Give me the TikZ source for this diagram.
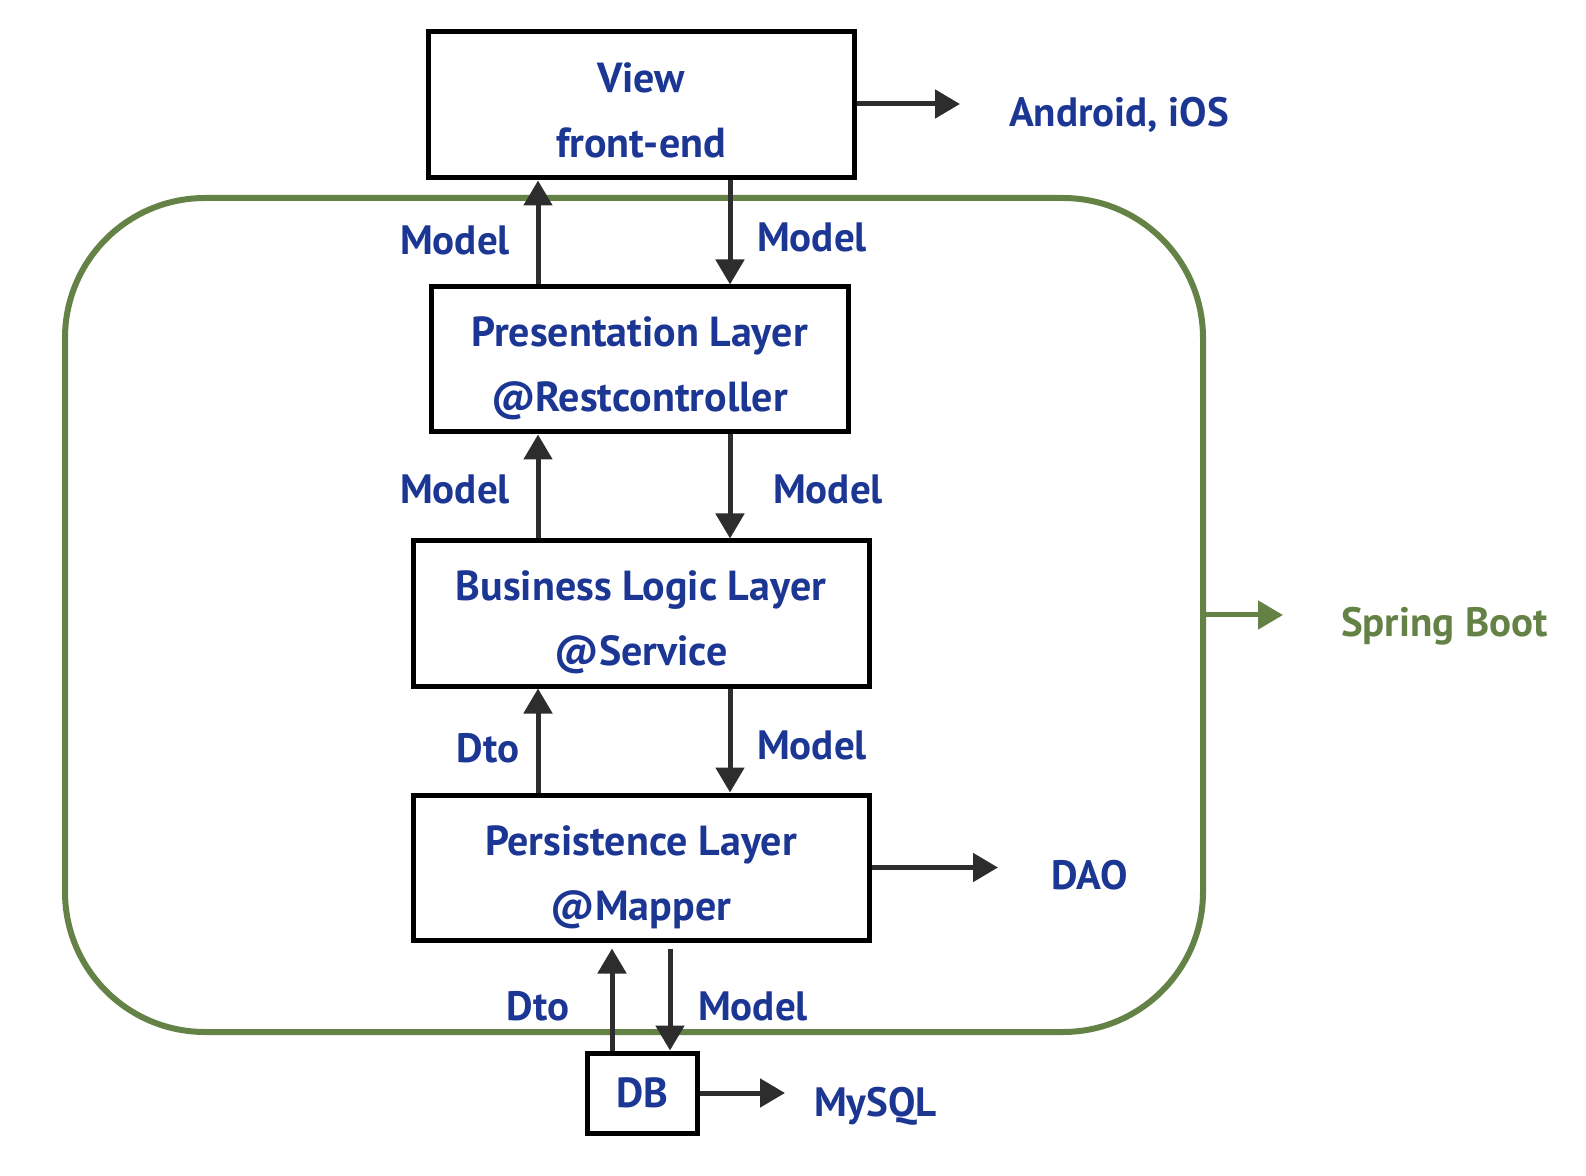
\documentclass[tikz,border=0pt]{standalone}
\usepackage{fontspec}
\setmainfont{PT Sans}
\usetikzlibrary{arrows.meta}
\definecolor{txtblue}{RGB}{28,54,148}
\definecolor{bootgreen}{RGB}{100,130,70}
\definecolor{arrgray}{RGB}{45,45,45}
\tikzset{
  layer/.style={draw=black, line width=2.5pt, fill=white},
  linea/.style={anchor=base, yshift=6.25pt, text=txtblue, font=\fontsize{21}{25}\selectfont\bfseries},
  lineb/.style={anchor=base, yshift=-26.25pt, text=txtblue, font=\fontsize{21}{25}\selectfont\bfseries},
  lbl/.style={text=txtblue, font=\fontsize{20.5}{24}\selectfont\bfseries},
  flow/.style={draw=arrgray, line width=2.5pt, -{Triangle[length=12.5pt,width=14pt]}},
}
\begin{document}
\begin{tikzpicture}[x=0.5pt,y=-0.5pt]
\useasboundingbox (0,0) rectangle (1586,1176);

%Shape: Rounded Rectangle (Spring Boot)
\node[draw=bootgreen, line width=3pt, rounded corners=70pt, minimum width=569pt, minimum height=417pt] (spring) at (634,615) {};

%Layers
\node[layer, minimum width=213pt, minimum height=73pt] (view) at (641,105) {};
\node[layer, minimum width=208.5pt, minimum height=72.5pt] (pres) at (639.5,359.5) {};
\node[layer, minimum width=228pt, minimum height=72.5pt] (bus) at (641,613.5) {};
\node[layer, minimum width=228pt, minimum height=72.5pt] (pers) at (641,867.5) {};
\node[layer, minimum width=55pt, minimum height=40pt] (db) at (642,1093) {};

%Layer texts
\node[linea] (viewa) at (view.center) {View};
\node[lineb] (viewb) at (view.center) {front-end};
\node[linea] (presa) at (pres.center) {Presentation Layer};
\node[lineb] (presb) at (pres.center) {@Restcontroller};
\node[linea] (busa) at (bus.center) {Business Logic Layer};
\node[lineb] (busb) at (bus.center) {@Service};
\node[linea] (persa) at (pers.center) {Persistence Layer};
\node[lineb] (persb) at (pers.center) {@Mapper};
\node[lbl, font=\fontsize{21}{25}\selectfont\bfseries] (dbtxt) at (db.center) {DB};

%Columns of the vertical arrows
\coordinate (upx) at (538,0);
\coordinate (downx) at (730,0);
\coordinate (dbup) at (612,0);
\coordinate (dbdown) at (670,0);

%Vertical arrows
\draw[flow] (pres.north -| upx) -- (view.south -| upx);
\draw[flow] (view.south -| downx) -- (pres.north -| downx);
\draw[flow] (bus.north -| upx) -- (pres.south -| upx);
\draw[flow] (pres.south -| downx) -- (bus.north -| downx);
\draw[flow] (pers.north -| upx) -- (bus.south -| upx);
\draw[flow] (bus.south -| downx) -- (pers.north -| downx);
\draw[flow, shorten >=3pt] (db.north -| dbup) -- (pers.south -| dbup);
\draw[flow, shorten <=3pt] (pers.south -| dbdown) -- (db.north -| dbdown);

%Arrow labels
\node[lbl] (m1) at (455,240) {Model};
\node[lbl] (m2) at (812,237) {Model};
\node[lbl] (m3) at (455,489) {Model};
\node[lbl] (m4) at (828,489) {Model};
\node[lbl] (d1) at (488,748) {Dto};
\node[lbl] (m5) at (812,745) {Model};
\node[lbl] (d2) at (538,1006) {Dto};
\node[lbl] (m6) at (753,1006) {Model};

%Side notes
\node[lbl, anchor=base west] (android) at (1002,127) {Android, iOS};
\node[lbl, anchor=base west] (dao) at (1044,889) {DAO};
\node[lbl, anchor=base west] (mysql) at (807,1116) {MySQL};
\node[lbl, anchor=base west, text=bootgreen] (boot) at (1334,637) {Spring Boot};

%Side arrows
\coordinate (viewend) at (960,104);
\coordinate (persend) at (998,867.5);
\coordinate (dbend) at (785,1093);
\coordinate (bootend) at (1283,615);
\draw[flow] (view.east |- viewend) -- (viewend);
\draw[flow] (pers.east) -- (persend);
\draw[flow] (db.east) -- (dbend);
\draw[flow, draw=bootgreen] (spring.east) -- (bootend);
\end{tikzpicture}
\end{document}
